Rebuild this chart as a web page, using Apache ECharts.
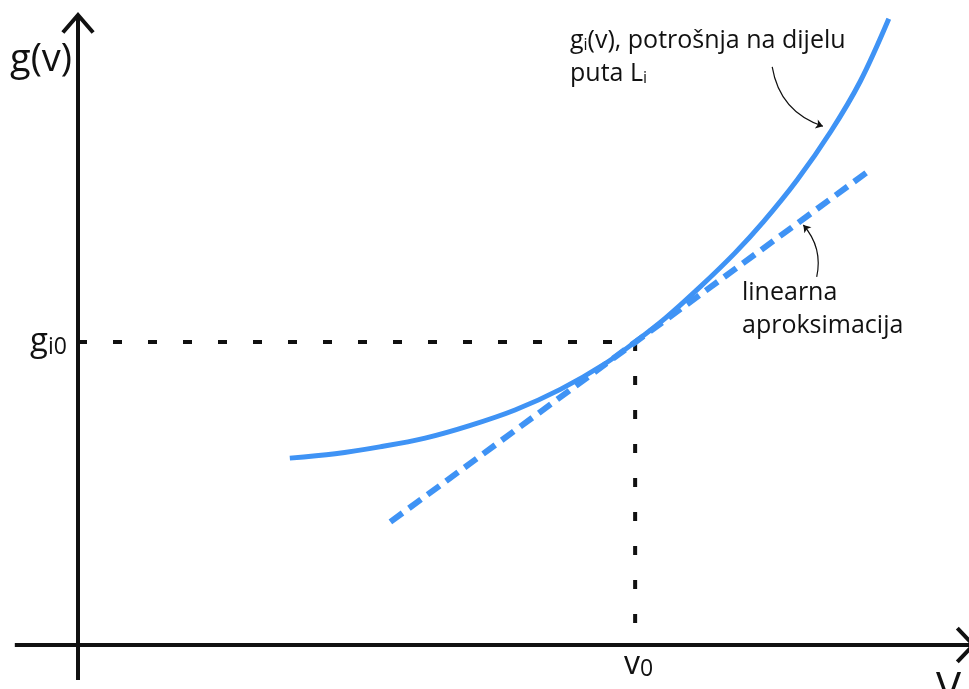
<!DOCTYPE html>
<html><head><meta charset="utf-8">
<script src="https://cdn.jsdelivr.net/npm/echarts@6/dist/echarts.min.js"></script>
<style>html,body{margin:0;padding:0;background:#fff}#c{width:969px;height:689px}</style>
</head><body><div id="c"></div>
<script>
// consumption curve g_i(v)
const curveV = [2.38, 2.89, 3.39, 3.90, 4.40, 4.91, 5.42, 5.92, 6.26, 6.60, 6.99, 7.38, 7.70, 8.08, 8.46, 8.79, 9.11];
const curveG = [2.99, 3.06, 3.17, 3.31, 3.51, 3.76, 4.09, 4.50, 4.85, 5.23, 5.73, 6.27, 6.77, 7.44, 8.22, 9.02, 10.02];
// linear approximation (tangent at v0)
const tangentV = [3.51, 8.90];
const tangentG = [1.97, 7.60];
// operating point
const v0 = 6.26;
const gi0 = 4.85;
// axis extents (with arrow heads)
const xAxisV = [-0.71, 10.06];
const yAxisG = [-0.56, 10.08];
const xArrowV = [9.88, 10.06, 9.88];
const xArrowG = [0.27, 0, -0.27];
const yArrowV = [-0.17, 0, 0.17];
const yArrowG = [9.80, 10.08, 9.80];
// annotation pointer arrows [from, to]
const pointer1 = [[7.80, 9.25], [8.37, 8.30]];
const pointer2 = [[8.30, 5.89], [8.15, 6.72]];

const BLUE = '#3f93f5';
const INK = '#111111';
const FONT = '"Open Sans", "Noto Sans", sans-serif';

const zip = (a, b) => a.map((v, i) => [v, b[i]]);

const chart = echarts.init(document.getElementById('c'), null, {renderer: 'canvas'});
chart.setOption({
  animation: false,
  backgroundColor: '#ffffff',
  grid: {left: 78, top: 20, width: 890, height: 625},
  xAxis: {type: 'value', min: 0, max: 10, show: false},
  yAxis: {type: 'value', min: 0, max: 10, show: false},
  series: [
    {type: 'lines', coordinateSystem: 'cartesian2d', polyline: true, clip: false, silent: true,
     lineStyle: {color: INK, width: 4, opacity: 1},
     data: [
       {coords: [[xAxisV[0], 0], [xAxisV[1], 0]]},
       {coords: [[0, yAxisG[0]], [0, yAxisG[1]]]},
       {coords: zip(xArrowV, xArrowG)},
       {coords: zip(yArrowV, yArrowG)}
     ]},
    {type: 'line', symbol: 'none', silent: true,
     data: [[0, gi0], [v0, gi0]], lineStyle: {color: INK, width: 4, type: [9, 26]}},
    {type: 'line', symbol: 'none', silent: true,
     data: [[v0, gi0], [v0, 0]], lineStyle: {color: INK, width: 4, type: [9, 25]}},
    {type: 'line', symbol: 'none', silent: true, smooth: 0.35,
     data: zip(curveV, curveG), lineStyle: {color: BLUE, width: 5}},
    {type: 'line', symbol: 'none', silent: true,
     data: zip(tangentV, tangentG), lineStyle: {color: BLUE, width: 6, type: [15, 8]}},
    {type: 'lines', coordinateSystem: 'cartesian2d', silent: true,
     symbol: ['none', 'arrow'], symbolSize: 7,
     lineStyle: {color: INK, width: 1.2, opacity: 1},
     data: [
       {coords: pointer1, lineStyle: {curveness: -0.3}},
       {coords: pointer2, lineStyle: {curveness: -0.25}}
     ]}
  ],
  graphic: [
    {type: 'text', x: 10, y: 60, style: {text: 'g(v)', fontSize: 38, fontFamily: FONT, fill: INK, verticalAlign: 'middle'}},
    {type: 'text', x: 30, y: 342, style: {text: 'g{s|i0}', fontSize: 33, fontFamily: FONT, fill: INK, verticalAlign: 'middle',
      rich: {s: {fontSize: 23, fontFamily: FONT, fill: INK, verticalAlign: 'bottom'}}}},
    {type: 'text', x: 624, y: 665, style: {text: 'v{s|0}', fontSize: 32, fontFamily: FONT, fill: INK, verticalAlign: 'middle',
      rich: {s: {fontSize: 23, fontFamily: FONT, fill: INK, verticalAlign: 'bottom'}}}},
    {type: 'text', x: 936, y: 690, style: {text: 'V', fontSize: 42, fontFamily: FONT, fill: INK, verticalAlign: 'middle'}},
    {type: 'text', x: 570, y: 41, style: {text: 'g{s|i}(v), potrošnja na dijelu', fontSize: 25, fontFamily: FONT, fill: INK, verticalAlign: 'middle',
      rich: {s: {fontSize: 16, fontFamily: FONT, fill: INK, verticalAlign: 'bottom'}}}},
    {type: 'text', x: 570, y: 74, style: {text: 'puta L{s|i}', fontSize: 25, fontFamily: FONT, fill: INK, verticalAlign: 'middle',
      rich: {s: {fontSize: 16, fontFamily: FONT, fill: INK, verticalAlign: 'bottom'}}}},
    {type: 'text', x: 742, y: 293, style: {text: 'linearna', fontSize: 25, fontFamily: FONT, fill: INK, verticalAlign: 'middle'}},
    {type: 'text', x: 742, y: 326, style: {text: 'aproksimacija', fontSize: 25, fontFamily: FONT, fill: INK, verticalAlign: 'middle'}}
  ]
});
</script>
</body></html>
